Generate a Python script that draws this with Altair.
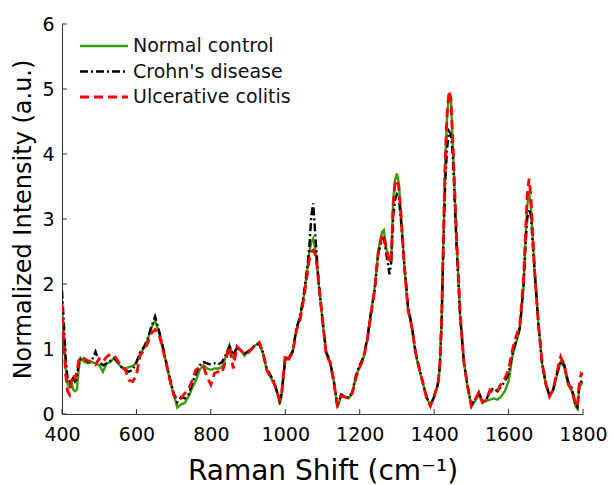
import altair as alt
import pandas as pd

# Raman shift grid (cm^-1)
wavenumber = [
    400, 405, 410, 415, 420, 425, 430, 435, 440, 445,
    450, 460, 470, 480, 490, 500, 510, 520, 530, 540,
    550, 560, 570, 580, 590, 600, 610, 620, 630, 640,
    650, 660, 670, 680, 690, 700, 710, 720, 730, 740,
    750, 760, 770, 780, 790, 800, 810, 820, 830, 840,
    850, 860, 870, 880, 890, 900, 910, 920, 930, 940,
    950, 960, 970, 980, 985, 990, 1000, 1010, 1020, 1030,
    1040, 1050, 1060, 1065, 1070, 1075, 1080, 1085, 1090, 1100,
    1110, 1120, 1130, 1140, 1150, 1160, 1170, 1180, 1190, 1200,
    1210, 1220, 1230, 1240, 1250, 1260, 1265, 1270, 1280, 1285,
    1290, 1295, 1300, 1305, 1310, 1320, 1330, 1340, 1350, 1360,
    1370, 1380, 1390, 1400, 1410, 1415, 1420, 1425, 1430, 1435,
    1440, 1445, 1450, 1455, 1460, 1470, 1480, 1490, 1500, 1510,
    1520, 1530, 1540, 1550, 1560, 1570, 1580, 1590, 1600, 1610,
    1620, 1630, 1640, 1645, 1650, 1655, 1660, 1665, 1670, 1680,
    1690, 1700, 1710, 1720, 1730, 1740, 1750, 1760, 1770, 1780,
    1785, 1790, 1795, 1800,
]

normal_control = [
    1.65, 1.15, 0.70, 0.45, 0.42, 0.50, 0.38, 0.35, 0.37, 0.70,
    0.86, 0.80, 0.78, 0.80, 0.78, 0.75, 0.65, 0.78, 0.80, 0.86,
    0.78, 0.72, 0.70, 0.72, 0.74, 0.78, 0.93, 1.01, 1.14, 1.32,
    1.44, 1.27, 1.04, 0.78, 0.52, 0.30, 0.10, 0.15, 0.17, 0.27,
    0.40, 0.52, 0.68, 0.75, 0.70, 0.68, 0.70, 0.70, 0.72, 0.88,
    1.06, 0.88, 1.01, 0.98, 0.90, 0.96, 1.01, 1.06, 1.08, 0.93,
    0.68, 0.57, 0.47, 0.29, 0.15, 0.28, 0.83, 0.85, 0.95, 1.30,
    1.50, 1.82, 2.25, 2.50, 2.65, 2.70, 2.55, 2.30, 2.00, 1.45,
    0.93, 0.80, 0.52, 0.10, 0.28, 0.27, 0.24, 0.32, 0.58, 0.73,
    0.86, 1.14, 1.55, 1.93, 2.52, 2.80, 2.83, 2.57, 2.37, 2.42,
    3.29, 3.60, 3.70, 3.55, 3.14, 2.27, 1.60, 1.34, 0.93, 0.68,
    0.47, 0.24, 0.14, 0.27, 0.45, 0.70, 1.40, 2.70, 3.90, 4.60,
    4.92, 4.85, 4.15, 3.45, 2.70, 1.50, 0.78, 0.42, 0.12, 0.20,
    0.30, 0.17, 0.20, 0.22, 0.24, 0.22, 0.27, 0.35, 0.50, 0.88,
    1.09, 1.30, 1.95, 2.60, 3.20, 3.42, 3.20, 2.70, 2.20, 1.40,
    0.78, 0.45, 0.27, 0.37, 0.60, 0.80, 0.72, 0.45, 0.35, 0.12,
    0.08, 0.42, 0.45, 0.50,
]

crohns_disease = [
    1.90, 1.40, 0.85, 0.55, 0.50, 0.55, 0.55, 0.50, 0.55, 0.80,
    0.85, 0.85, 0.80, 0.82, 0.96, 0.80, 0.75, 0.78, 0.82, 0.86,
    0.80, 0.72, 0.68, 0.65, 0.68, 0.80, 0.95, 1.03, 1.15, 1.34,
    1.50, 1.30, 1.06, 0.80, 0.54, 0.32, 0.18, 0.26, 0.24, 0.30,
    0.48, 0.62, 0.75, 0.80, 0.78, 0.76, 0.78, 0.76, 0.80, 0.91,
    1.04, 0.91, 1.02, 0.98, 0.93, 0.96, 1.01, 1.06, 1.09, 0.95,
    0.70, 0.60, 0.50, 0.30, 0.20, 0.32, 0.85, 0.87, 0.97, 1.32,
    1.50, 1.85, 2.30, 2.60, 3.05, 3.24, 2.80, 2.40, 2.00, 1.45,
    0.95, 0.82, 0.52, 0.12, 0.30, 0.27, 0.25, 0.33, 0.60, 0.75,
    0.88, 1.15, 1.55, 1.90, 2.48, 2.68, 2.70, 2.52, 2.15, 2.35,
    3.04, 3.30, 3.38, 3.34, 3.04, 2.30, 1.65, 1.36, 0.95, 0.70,
    0.48, 0.26, 0.14, 0.26, 0.46, 0.72, 1.40, 2.60, 3.60, 4.10,
    4.35, 4.30, 4.00, 3.30, 2.60, 1.50, 0.80, 0.42, 0.14, 0.22,
    0.33, 0.20, 0.22, 0.35, 0.40, 0.35, 0.42, 0.50, 0.62, 0.92,
    1.12, 1.32, 1.95, 2.55, 3.00, 3.15, 3.05, 2.60, 2.20, 1.40,
    0.78, 0.47, 0.28, 0.38, 0.62, 0.82, 0.75, 0.50, 0.40, 0.14,
    0.10, 0.45, 0.50, 0.55,
]

ulcerative_colitis = [
    1.70, 1.10, 0.60, 0.35, 0.30, 0.50, 0.60, 0.55, 0.65, 0.82,
    0.88, 0.85, 0.82, 0.80, 0.76, 0.85, 0.80, 0.88, 0.92, 0.90,
    0.82, 0.72, 0.68, 0.52, 0.50, 0.60, 0.90, 0.98, 1.09, 1.24,
    1.30, 1.24, 1.02, 0.78, 0.52, 0.30, 0.22, 0.24, 0.32, 0.37,
    0.52, 0.68, 0.72, 0.73, 0.57, 0.45, 0.63, 0.65, 0.63, 0.83,
    1.04, 0.70, 1.04, 0.98, 0.93, 0.94, 1.00, 1.06, 1.10, 0.95,
    0.68, 0.57, 0.47, 0.30, 0.22, 0.30, 0.92, 0.85, 0.95, 1.28,
    1.45, 1.78, 2.20, 2.40, 2.50, 2.52, 2.47, 2.30, 2.00, 1.45,
    0.90, 0.80, 0.50, 0.14, 0.28, 0.26, 0.25, 0.32, 0.56, 0.72,
    0.85, 1.12, 1.52, 1.90, 2.50, 2.75, 2.75, 2.60, 2.32, 2.40,
    3.25, 3.55, 3.60, 3.50, 3.14, 2.27, 1.60, 1.34, 0.95, 0.70,
    0.47, 0.24, 0.12, 0.28, 0.45, 0.70, 1.45, 2.75, 3.95, 4.65,
    4.97, 4.85, 4.20, 3.50, 2.75, 1.55, 0.80, 0.42, 0.12, 0.22,
    0.33, 0.18, 0.22, 0.37, 0.33, 0.35, 0.47, 0.55, 0.68, 0.98,
    1.19, 1.36, 2.05, 2.70, 3.35, 3.62, 3.35, 2.75, 2.20, 1.40,
    0.80, 0.47, 0.27, 0.38, 0.65, 0.88, 0.75, 0.47, 0.38, 0.15,
    0.12, 0.45, 0.62, 0.60,
]

series_names = ["Normal control", "Crohn's disease", "Ulcerative colitis"]
series_values = [normal_control, crohns_disease, ulcerative_colitis]
series_colors = ["#3a9b0c", "#000000", "#ff0000"]
series_dashes = [None, [8, 3, 2, 3], [9, 5]]
series_widths = [2.4, 2.4, 2.8]

x_ticks = [400, 600, 800, 1000, 1200, 1400, 1600, 1800]
y_ticks = [0, 1, 2, 3, 4, 5, 6]

FONT = "DejaVu Sans"
W, H = 521, 390

x_enc = alt.X(
    "wn:Q",
    scale=alt.Scale(domain=[400, 1800], nice=False, zero=False),
    axis=alt.Axis(values=x_ticks, title="Raman Shift (cm⁻¹)", ticks=False,
                  labelPadding=11, titlePadding=13, format="d",
                  labelFlush=False, labelOverlap=False, titleFontSize=28),
)
y_enc = alt.Y(
    "I:Q",
    scale=alt.Scale(domain=[0, 6], nice=False),
    axis=alt.Axis(values=y_ticks, title="Normalized Intensity (a.u.)", ticks=False,
                  labelPadding=8, titlePadding=6, format="d",
                  labelFlush=False, labelOverlap=False, titleFontSize=24),
)

layers = []
for name, vals, col, dash, sw in zip(series_names, series_values, series_colors,
                                      series_dashes, series_widths):
    df = pd.DataFrame({"wn": wavenumber, "I": vals})
    kw = dict(color=col, strokeWidth=sw, clip=True)
    if dash:
        kw["strokeDash"] = dash
    layers.append(alt.Chart(df).mark_line(**kw).encode(x=x_enc, y=y_enc))

# inward ticks
xt = alt.Chart(pd.DataFrame({"wn": x_ticks})).mark_rule(color="#333333", strokeWidth=1).encode(
    x=alt.X("wn:Q"), y=alt.value(H), y2=alt.value(H - 5))
yt = alt.Chart(pd.DataFrame({"I": y_ticks})).mark_rule(color="#333333", strokeWidth=1).encode(
    y=alt.Y("I:Q"), x=alt.value(0), x2=alt.value(5))
layers += [xt, yt]

# legend drawn inside the plot
for i, (name, col, dash, sw) in enumerate(zip(series_names, series_colors, series_dashes, series_widths)):
    ly = 22 + 25.5 * i
    ldf = pd.DataFrame({"label": [name]})
    kw = dict(color=col, strokeWidth=sw)
    if dash:
        kw["strokeDash"] = dash
    layers.append(alt.Chart(ldf).mark_rule(**kw).encode(
        x=alt.value(18), x2=alt.value(66), y=alt.value(ly)))
    layers.append(alt.Chart(ldf).mark_text(align="left", baseline="middle", fontSize=19,
                                           font=FONT, color="#111111").encode(
        x=alt.value(71), y=alt.value(ly), text="label:N"))

chart = alt.layer(*layers).properties(
    width=W, height=H,
    autosize=alt.AutoSizeParams(type="none"),
    padding={"left": 62, "top": 24, "right": 30, "bottom": 71},
).configure_view(stroke=None).configure_axis(
    grid=False, domainColor="#333333", domainWidth=1,
    labelFont=FONT, labelFontSize=19, labelColor="#000000",
    titleFont=FONT, titleFontWeight="normal", titleColor="#000000",
)

chart.save("out.html", embed_options={"renderer": "svg", "actions": False})
